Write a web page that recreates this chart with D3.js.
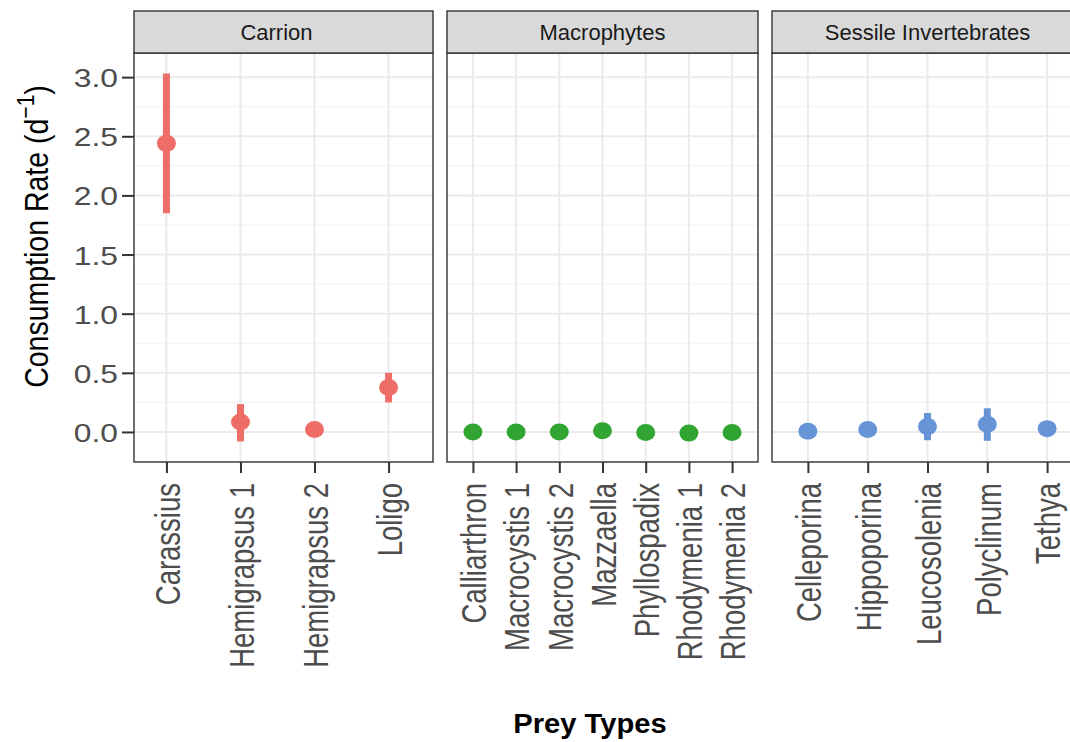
<!DOCTYPE html>
<html>
<head>
<meta charset="utf-8">
<script src="https://cdn.jsdelivr.net/npm/d3@7"></script>
<style>
  body { margin: 0; background: #fff; }
  svg { display: block; font-family: "Liberation Sans", Arial, sans-serif; }
</style>
</head>
<body>
<div class="chart-container"></div>
<script>
// facet groups and their colours
var groups = ['Carrion', 'Macrophytes', 'Sessile Invertebrates'];
var groupColors = ['#ee6e67', '#30a532', '#6794d6'];

var carrionPrey = ['Carassius', 'Hemigrapsus 1', 'Hemigrapsus 2', 'Loligo'];
var carrionRate = [2.44, 0.085, 0.02, 0.375];
var carrionLow = [1.85, -0.08, 0.0, 0.25];
var carrionHigh = [3.03, 0.235, 0.04, 0.50];

var macrophytePrey = ['Calliarthron', 'Macrocystis 1', 'Macrocystis 2', 'Mazzaella',
  'Phyllospadix', 'Rhodymenia 1', 'Rhodymenia 2'];
var macrophyteRate = [0.0, 0.0, 0.0, 0.01, -0.005, -0.01, -0.005];
var macrophyteLow = [-0.005, -0.005, -0.005, 0.005, -0.01, -0.015, -0.01];
var macrophyteHigh = [0.005, 0.005, 0.005, 0.015, 0.0, -0.005, 0.0];

var sessilePrey = ['Celleporina', 'Hippoporina', 'Leucosolenia', 'Polyclinum', 'Tethya'];
var sessileRate = [0.005, 0.02, 0.045, 0.065, 0.028];
var sessileLow = [-0.005, 0.005, -0.07, -0.075, 0.015];
var sessileHigh = [0.015, 0.035, 0.16, 0.20, 0.04];

var yTicks = [0, 0.5, 1, 1.5, 2, 2.5, 3];

var panels = [
  { name: groups[0], color: groupColors[0], prey: carrionPrey, rate: carrionRate, low: carrionLow, high: carrionHigh },
  { name: groups[1], color: groupColors[1], prey: macrophytePrey, rate: macrophyteRate, low: macrophyteLow, high: macrophyteHigh },
  { name: groups[2], color: groupColors[2], prey: sessilePrey, rate: sessileRate, low: sessileLow, high: sessileHigh }
];

var totalWidth = 1070;
var totalHeight = 742;
var stripTop = 11;
var plotTop = 53;
var plotBottom = 462;
var panelStart = 122;
var panelStep = 325;
var panelWidth = 311;
var firstFrameInset = 12;

var svg = d3.select('.chart-container').append('svg')
  .attr('width', totalWidth)
  .attr('height', totalHeight);

svg.append('rect')
  .attr('width', totalWidth)
  .attr('height', totalHeight)
  .attr('fill', '#fff');

var allLow = d3.merge(panels.map(p => p.low));
var allHigh = d3.merge(panels.map(p => p.high));
var yMin = d3.min(allLow), yMax = d3.max(allHigh);
var pad = (yMax - yMin) * 0.056;

var y = d3.scaleLinear()
  .domain([yMin - pad, yMax + pad])
  .range([plotBottom, plotTop]);

var minorTicks = d3.range(-0.25, 3.3, 0.5);

panels.forEach(function(p, i) {
  var x0 = panelStart + i * panelStep;
  var x1 = x0 + panelWidth;
  var frameLeft = i === 0 ? x0 + firstFrameInset : x0;

  var x = d3.scalePoint()
    .domain(p.prey)
    .range([x0, x1])
    .padding(0.6);

  var g = svg.append('g');

  // grid
  g.selectAll('.minor').data(minorTicks).enter()
    .append('line')
      .attr('x1', frameLeft).attr('x2', x1)
      .attr('y1', d => y(d)).attr('y2', d => y(d))
      .attr('stroke', '#f2f2f2').attr('stroke-width', 1);

  g.selectAll('.major').data(yTicks).enter()
    .append('line')
      .attr('x1', frameLeft).attr('x2', x1)
      .attr('y1', d => y(d)).attr('y2', d => y(d))
      .attr('stroke', '#ebebeb').attr('stroke-width', 2);

  g.selectAll('.vgrid').data(p.prey).enter()
    .append('line')
      .attr('x1', d => x(d)).attr('x2', d => x(d))
      .attr('y1', plotTop).attr('y2', plotBottom)
      .attr('stroke', '#ebebeb').attr('stroke-width', 2);

  // error bars + points
  g.selectAll('.err').data(p.prey).enter()
    .append('line')
      .attr('x1', d => x(d)).attr('x2', d => x(d))
      .attr('y1', (d, j) => y(p.low[j]))
      .attr('y2', (d, j) => y(p.high[j]))
      .attr('stroke', p.color)
      .attr('stroke-width', 7);

  g.selectAll('.pt').data(p.prey).enter()
    .append('ellipse')
      .attr('cx', d => x(d))
      .attr('cy', (d, j) => y(p.rate[j]))
      .attr('rx', 9.5)
      .attr('ry', 8.5)
      .attr('fill', p.color);

  // frame
  g.append('rect')
    .attr('x', frameLeft).attr('y', plotTop)
    .attr('width', x1 - frameLeft).attr('height', plotBottom - plotTop)
    .attr('fill', 'none').attr('stroke', '#333').attr('stroke-width', 1.4);

  // strip
  g.append('rect')
    .attr('x', frameLeft).attr('y', stripTop)
    .attr('width', x1 - frameLeft).attr('height', plotTop - stripTop)
    .attr('fill', '#d9d9d9').attr('stroke', '#333').attr('stroke-width', 1.4);

  g.append('text')
    .attr('x', (x.range()[0] + x.range()[1]) / 2 + (i === 0 ? -1 : 0))
    .attr('y', (stripTop + plotTop) / 2)
    .attr('dy', '0.36em')
    .attr('text-anchor', 'middle')
    .attr('font-size', 22)
    .attr('fill', '#1a1a1a')
    .text(p.name);

  // x axis
  var gX = svg.append('g')
    .attr('transform', `translate(0, ${plotBottom})`)
    .call(d3.axisBottom(x).tickSize(11).tickSizeOuter(0));

  gX.select('.domain').remove();
  gX.selectAll('.tick line').attr('stroke', '#333').attr('stroke-width', 2);
  gX.selectAll('.tick text')
    .attr('x', null).attr('y', null).attr('dy', '0.36em')
    .attr('transform', 'translate(0, 21) scale(1.3, 1) rotate(-90)')
    .attr('text-anchor', 'end')
    .attr('font-size', 27.5)
    .attr('font-family', '"Liberation Sans", Arial, sans-serif')
    .attr('fill', '#4d4d4d');
});

// y axis
var gY = svg.append('g')
  .attr('transform', `translate(${panelStart + firstFrameInset}, 0)`)
  .call(d3.axisLeft(y).tickValues(yTicks).tickFormat(d3.format('.1f')).tickSize(12));

gY.select('.domain').remove();
gY.selectAll('.tick line').attr('stroke', '#333').attr('stroke-width', 2);
gY.selectAll('.tick text')
  .attr('x', null).attr('dy', '0.36em')
  .attr('transform', 'translate(-16, 0) scale(1.2, 1)')
  .attr('text-anchor', 'end')
  .attr('font-size', 26.5)
  .attr('font-family', '"Liberation Sans", Arial, sans-serif')
  .attr('fill', '#4d4d4d');

// axis titles
var yTitle = svg.append('text')
  .attr('transform', `translate(48, ${(stripTop + plotBottom) / 2}) scale(1.18, 1) rotate(-90)`)
  .attr('text-anchor', 'middle')
  .attr('font-size', 28.5)
  .attr('fill', '#000');
yTitle.append('tspan').text('Consumption Rate (d');
yTitle.append('tspan').attr('font-size', 21).attr('dy', -12).text('\u22121');
yTitle.append('tspan').attr('dy', 12).text(')');

svg.append('text')
  .attr('transform', 'translate(590, 733) scale(1.06, 1)')
  .attr('text-anchor', 'middle')
  .attr('font-size', 27.5)
  .attr('font-weight', 'bold')
  .attr('fill', '#000')
  .text('Prey Types');
</script>
</body>
</html>
